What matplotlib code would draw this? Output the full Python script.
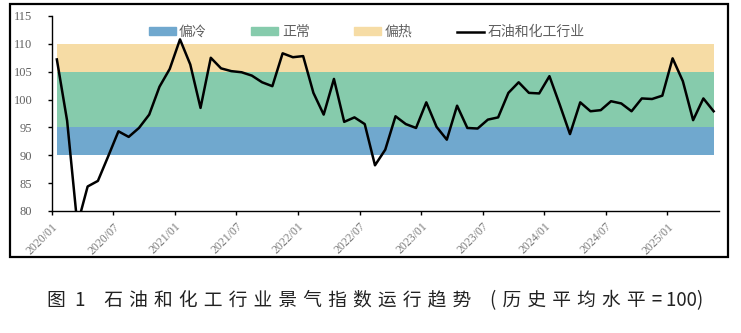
import matplotlib.pyplot as plt
from matplotlib.patches import Rectangle, Patch
from matplotlib.lines import Line2D
from matplotlib.transforms import ScaledTranslation
import numpy as np

plt.rcParams['font.family'] = ['Noto Sans CJK SC', 'DejaVu Sans']

# 月度景气指数 2020/01 - 2025/05
index_values = [107.2, 96.2, 77.5, 84.4, 85.4, 89.8, 94.3, 93.3, 94.9, 97.3, 102.3, 105.5,
                110.8, 106.3, 98.5, 107.5, 105.6, 105.1, 104.9, 104.3, 103.1, 102.4, 108.3, 107.6,
                107.8, 101.2, 97.3, 103.7, 96.0, 96.8, 95.6, 88.2, 91.0, 97.0, 95.6, 94.9,
                99.5, 95.1, 92.8, 98.9, 94.9, 94.8, 96.4, 96.8, 101.2, 103.1, 101.2, 101.1,
                104.2, 99.1, 93.8, 99.5, 97.9, 98.1, 99.7, 99.3, 97.9, 100.2, 100.1, 100.7,
                107.4, 103.3, 96.3, 100.2, 97.9]
tick_labels = ['2020/01', '2020/07', '2021/01', '2021/07', '2022/01', '2022/07',
               '2023/01', '2023/07', '2024/01', '2024/07', '2025/01']

# 区间
band_names = ['偏冷', '正常', '偏热']
band_low = [90, 95, 105]
band_high = [95, 105, 110]
band_colors = ['#70a8ce', '#86cbac', '#f6dca5']
series_name = '石油和化工行业'

caption_parts = ['图', '1', '石油和化工行业景气指数运行趋势', '(历史平均水平=', '100)']

fig = plt.figure(figsize=(7.41, 3.33), dpi=100)
ax = fig.add_axes([0.0698, 0.3664, 0.9002, 0.5856])

x = np.arange(len(index_values))
for lo, hi, c in zip(band_low, band_high, band_colors):
    ax.fill_between([x[0], x[-1]], lo, hi, color=c, lw=0)
ax.plot(x, index_values, color='black', lw=1.8)

ax.set_xlim(-0.5, len(index_values) - 0.5)
ax.set_ylim(80, 115)
ax.set_yticks(range(80, 116, 5))
ax.set_xticks(np.arange(len(tick_labels)) * 6 - 0.5)
ax.set_xticklabels(tick_labels, rotation=45, ha='right', rotation_mode='anchor',
                   fontsize=8.5, color='#7a7a7a', family='Liberation Serif')
shift = ScaledTranslation(3 / 100, 0, fig.dpi_scale_trans)
for lab in ax.get_xticklabels():
    lab.set_transform(lab.get_transform() + shift)
for lab in ax.get_yticklabels():
    lab.set_family('Liberation Serif')
ax.tick_params(axis='y', labelsize=9, labelcolor='#606060', length=3, width=1, pad=11)
ax.tick_params(axis='x', length=3, width=1, pad=4)
for s in ['top', 'right']:
    ax.spines[s].set_visible(False)
for s in ['left', 'bottom']:
    ax.spines[s].set_linewidth(1)

handles = [Patch(color=c) for c in band_colors] + [Line2D([], [], color='black', lw=1.8)]
fig.legend(handles, band_names + [series_name], loc='center', bbox_to_anchor=(0.4946, 0.904),
           ncol=4, frameon=False, fontsize=10, handlelength=1.95, handleheight=0.5,
           handletextpad=0.25, columnspacing=3.2, labelcolor='#606060')

fig.add_artist(Rectangle((0.0135, 0.228), 0.969, 0.760, transform=fig.transFigure,
                         fill=False, lw=1.6, edgecolor='black'))

# 字间距
gap = '\u2004'
caption = (caption_parts[0] + '\u2002' + caption_parts[1] + '\u2003'
           + gap.join(caption_parts[2]) + '\u2003' + gap.join(caption_parts[3])
           + '\u2009' + caption_parts[4])
fig.text(0.506, 0.097, caption, ha='center', va='center', fontsize=13.5, color='#222222')

fig.savefig('out.png', dpi=100, facecolor='white')
